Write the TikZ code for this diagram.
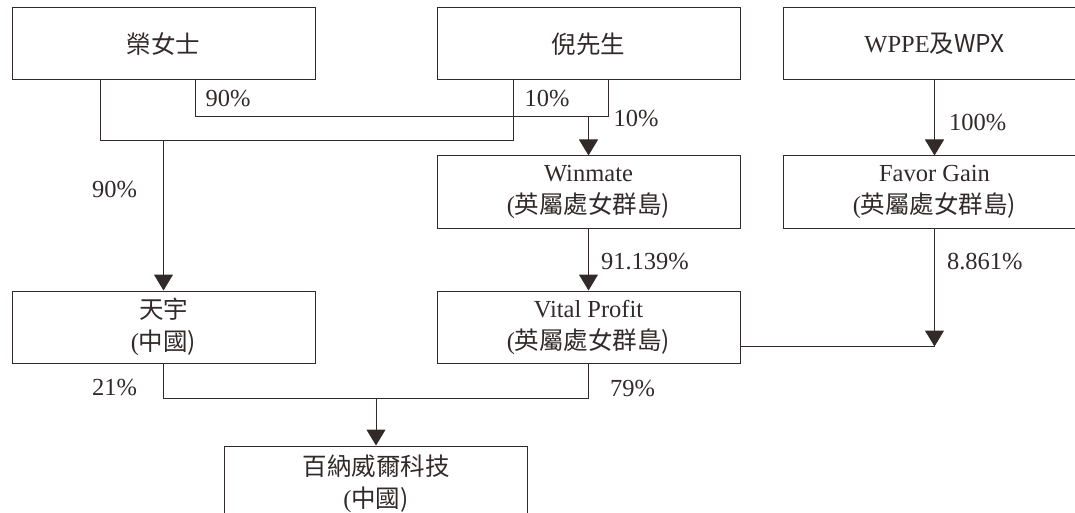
\documentclass[tikz,border=0pt]{standalone}
\usepackage{fontspec}
\setmainfont{Liberation Serif}
\newfontfamily\cjk{Noto Sans CJK TC}
\usepackage{tikz}
\usetikzlibrary{positioning,calc,arrows.meta}
\definecolor{inkgray}{RGB}{50,42,42}
\tikzset{%
	block/.style    = {draw, rectangle, minimum height = 72pt,
		minimum width = 303pt, align=center},
	pct/.style      = {inner sep=0pt}
}

\begin{document}
\begin{tikzpicture}[x=1pt, y=1pt, line width=1pt, color=inkgray,
          >={Triangle[width=19pt,length=16pt]},
          font=\fontsize{24.5}{32}\selectfont]
        \useasboundingbox (0,0) rectangle (1075,-513);
        \clip (0,0) rectangle (1075,-513);
        \draw
        	node at (163.5,-44)[block, name=ron]{\cjk{榮女士}}
        	node [block, right=121pt of ron] (ni) {\cjk{倪先生}}
        	node [block, right=42pt of ni] (wppe) {WPPE\cjk{及}WPX}
        	
        	node [block, below=75pt of ni] (winmate) {Winmate\\(\cjk{英屬處女群島})}
        	node [block, below=75pt of wppe] (favor) {Favor Gain\\(\cjk{英屬處女群島})}
        	
        	node [block, below=62pt of winmate] (vital) {Vital Profit\\(\cjk{英屬處女群島})}
        	node [block, left=121pt of vital] (tianyu) {\cjk{天宇}\\(\cjk{中國})};
        	
        	\coordinate (r1) at ([xshift=-63.5pt]ron.south);
        	\coordinate (r2) at ([xshift=31.5pt]ron.south);
        	\coordinate (n1) at ([xshift=-75.5pt]ni.south);
        	\coordinate (n2) at ([xshift=19.5pt]ni.south);
        	
        	\draw (r1) -- ++(0,-60) coordinate (a1) -| node[pct, pos=0.85, right=11pt] {10\%} (n1);
        	\draw (r2) -- node[pct, right=10pt] {90\%} ++(0,-36) coordinate (b1) -| node[pct, pos=0.5, right=5pt, yshift=-2pt] {10\%} (n2);
        	\draw[->](a1 -| tianyu) -- node[pct, pos=0.33, left=26pt] {90\%} (tianyu);
        	\draw[->](b1 -| winmate) -- (winmate);
        	
        	\draw[->](wppe) -- node[pct, pos=0.56, right=14pt] {100\%} (favor);
        	\draw[->](winmate) -- node[pct, pos=0.54, right=12pt] {91.139\%} (vital);
        	\coordinate[below=118pt of favor.south] (fjoin);
        	\draw[->](favor) -- node[pct, pos=0.28, right=12pt] {8.861\%} (fjoin);
        	\draw (fjoin) -- (fjoin -| vital.east);
        	
        	\coordinate (mid) at ($(tianyu.south)!0.5!(vital.south)$);
        	\draw node [block, minimum height=76pt, below=82pt of mid] (baina) {\cjk{百納威爾科技}\\(\cjk{中國})};
        	\draw (tianyu.south) -- node[pct, pos=0.7, left=26pt] {21\%} ++(0,-35) coordinate (c1) -| node[pct, pos=0.64, right=21pt] {79\%} (vital);
        	\draw[->](c1 -| baina) -- (baina);
    \end{tikzpicture}
\end{document}
